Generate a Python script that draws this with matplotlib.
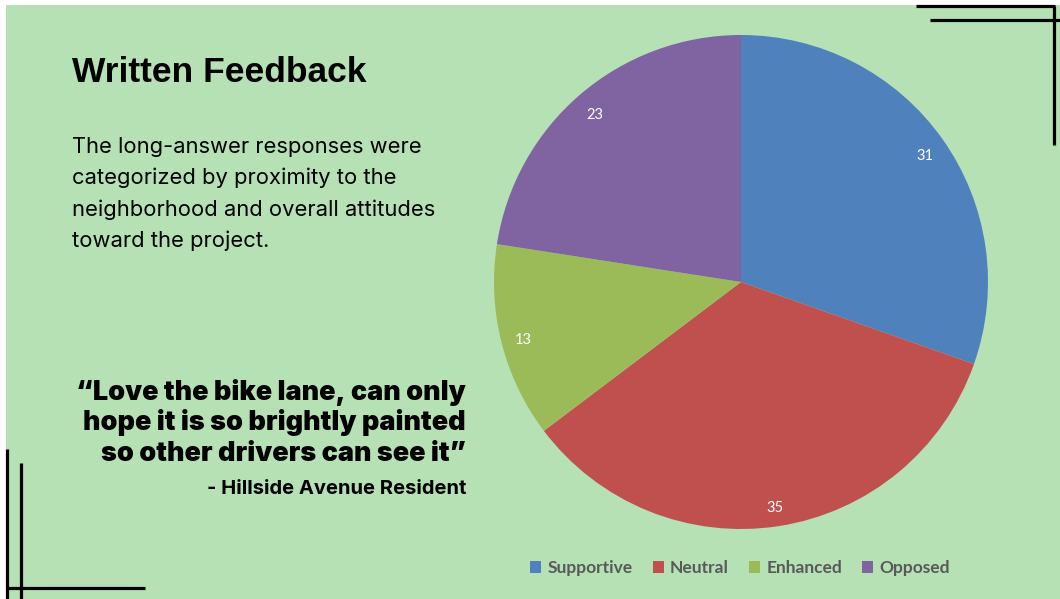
import matplotlib
matplotlib.use('Agg')
import matplotlib.pyplot as plt
from matplotlib.patches import Rectangle
from matplotlib.lines import Line2D

categories = ['Supportive', 'Neutral', 'Enhanced', 'Opposed']
counts = [31, 35, 13, 23]
colors = ['#4F81BD', '#C0504D', '#9BBB59', '#8064A2']

W, H = 1060, 599
BG = '#B5E1B4'

fig = plt.figure(figsize=(W / 100, H / 100), dpi=100)
fig.patch.set_facecolor('white')


def fx(x):
    return x / W


def fy(y):
    return 1 - y / H


# green slide background
fig.patches.append(Rectangle((fx(6), 0), 1 - fx(6), fy(5), transform=fig.transFigure,
                             facecolor=BG, edgecolor='none', zorder=-10))

# decorative corner lines
segs = [((916, 6), (1055, 6)), ((930, 20), (1060, 20)), ((1054, 6), (1054, 145)),
        ((7, 449), (7, 599)), ((21, 463), (21, 599)), ((7, 588), (145, 588))]
for (x0, y0), (x1, y1) in segs:
    fig.add_artist(Line2D([fx(x0), fx(x1)], [fy(y0), fy(y1)], transform=fig.transFigure,
                          color='black', lw=2.3, solid_capstyle='butt'))

# pie
cx, cy, r = 741, 282, 247
ax = fig.add_axes([fx(cx - r), fy(cy + r), 2 * r / W, 2 * r / H])
ax.set_zorder(1)
total = sum(counts)
wedges, _, autotexts = ax.pie(counts, colors=colors, startangle=90, counterclock=False,
                              radius=1, autopct=lambda p: f'{p * total / 100:.0f}',
                              pctdistance=0.91, wedgeprops=dict(linewidth=0))
for t in autotexts:
    t.set_color('white')
    t.set_fontsize(10.5)
    t.set_family('Lato')
    px, py = t.get_position()
    t.set_position((px, py - 0.014))
ax.set_xlim(-1, 1); ax.set_ylim(-1, 1)
ax.set_aspect('equal')
ax.axis('off')

fig.legend(wedges, categories, loc='center', bbox_to_anchor=(fx(740), fy(568)), ncol=4,
           frameon=False, handlelength=0.65, handleheight=0.65, handletextpad=0.35,
           columnspacing=1.15, prop=dict(family='Lato', weight='bold', size=12.5),
           labelcolor='#595959')

# text
fig.text(fx(72), fy(82), 'Written Feedback', family='Liberation Sans', weight='bold',
         fontsize=25.5, va='baseline', ha='left')
body = ['The long-answer responses were', 'categorized by proximity to the',
        'neighborhood and overall attitudes', 'toward the project.']
for i, line in enumerate(body):
    fig.text(fx(72), fy(153 + 31.3 * i), line, family='Inter', fontsize=15.8,
             va='baseline', ha='left')

quote = ['\u201cLove the bike lane, can only', 'hope it is so brightly painted',
         'so other drivers can see it\u201d']
for i, line in enumerate(quote):
    fig.text(fx(466), fy(400 + 30.5 * i), line, family='Inter', weight='black',
             fontsize=19.4, va='baseline', ha='right')
fig.text(fx(466), fy(494), '- Hillside Avenue Resident', family='Inter', weight='bold',
         fontsize=14.5, va='baseline', ha='right')

plt.savefig('out.png', dpi=100, facecolor='white')
plt.close()
